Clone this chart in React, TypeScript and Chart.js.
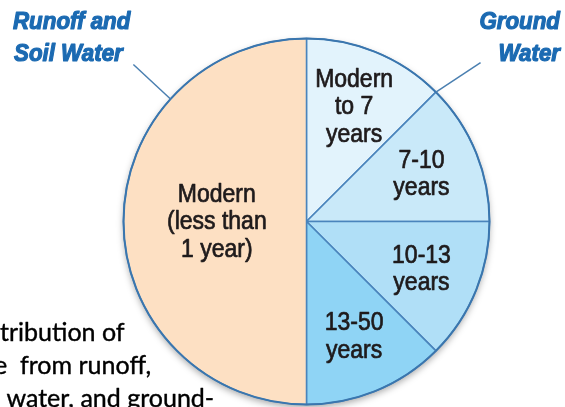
import React, { useEffect, useRef } from "react";
import { Chart, registerables } from "chart.js";

Chart.register(...registerables);

// Slices, clockwise from the top of the circle
const categories = ["Modern to 7 years", "7-10 years", "10-13 years", "13-50 years", "Modern (less than 1 year)"];
const shares = [12.5, 12.5, 12.5, 12.5, 50];
const sliceLabels = [
  ["Modern", "to 7", "years"],
  ["7-10", "years"],
  ["10-13", "years"],
  ["13-50", "years"],
  ["Modern", "(less than", "1 year)"],
];
const sliceColors = ["#E2F3FC", "#C9E9F9", "#B0DFF7", "#8FD4F5", "#FDE0C3"];
const groupLeft = ["Runoff and", "Soil Water"];
const groupRight = ["Ground", "Water"];
const captionLines = ["tribution of", "e  from runoff,", " water, and ground-"];

function drawScaled(ctx: CanvasRenderingContext2D, text: string, x: number, y: number, align: CanvasTextAlign, sx: number, strokeW = 0) {
  ctx.save();
  ctx.translate(x, y);
  ctx.scale(sx, 1);
  ctx.textAlign = align;
  ctx.textBaseline = "alphabetic";
  if (strokeW > 0) {
    ctx.lineWidth = strokeW;
    ctx.lineJoin = "round";
    ctx.strokeStyle = ctx.fillStyle as string;
    ctx.strokeText(text, 0, 0);
  }
  ctx.fillText(text, 0, 0);
  ctx.restore();
}

const overlay = {
  id: "overlay",
  beforeDatasetsDraw(chart: any) {
    const ctx = chart.ctx as CanvasRenderingContext2D;
    const a = chart.getDatasetMeta(0).data[0];
    if (!a) return;
    ctx.save();
    ctx.shadowColor = "rgba(0,0,0,0.35)";
    ctx.shadowBlur = 7;
    ctx.shadowOffsetY = 3;
    ctx.beginPath();
    ctx.arc(a.x, a.y, a.outerRadius, 0, Math.PI * 2);
    ctx.fillStyle = "#ffffff";
    ctx.fill();
    ctx.restore();
  },
  afterDatasetsDraw(chart: any) {
    const ctx = chart.ctx as CanvasRenderingContext2D;
    const arcs = chart.getDatasetMeta(0).data;
    if (!arcs.length) return;
    const cx = arcs[0].x;
    const cy = arcs[0].y;
    const R = arcs[0].outerRadius;

    // outer ring
    ctx.save();
    ctx.beginPath();
    ctx.arc(cx, cy, R, 0, Math.PI * 2);
    ctx.strokeStyle = "#3A76AE";
    ctx.lineWidth = 2;
    ctx.stroke();
    ctx.restore();

    // callout lines
    const deg = Math.PI / 180;
    const callouts = [
      { a0: -138, r0: 1.0, a1: -137.8, r1: 1.277 },
      { a0: -45, r0: 1.0, a1: -42.4, r1: 1.288 },
    ];
    ctx.save();
    ctx.strokeStyle = "#4A7FB0";
    ctx.lineWidth = 1.5;
    for (const c of callouts) {
      ctx.beginPath();
      ctx.moveTo(cx + Math.cos(c.a0 * deg) * R * c.r0, cy + Math.sin(c.a0 * deg) * R * c.r0);
      ctx.lineTo(cx + Math.cos(c.a1 * deg) * R * c.r1, cy + Math.sin(c.a1 * deg) * R * c.r1);
      ctx.stroke();
    }
    ctx.restore();

    // slice labels
    ctx.save();
    ctx.fillStyle = "#1E1A1B";
    ctx.font = "25px 'Liberation Sans', Arial, sans-serif";
    const lh = 27.5;
    const capH = 18;
    arcs.forEach((arc: any, i: number) => {
      const mid = (arc.startAngle + arc.endAngle) / 2;
      const span = arc.endAngle - arc.startAngle;
      const f = span > Math.PI * 0.9 ? 0.49 : 0.68;
      const lx = cx + Math.cos(mid) * R * f;
      const ly = cy + Math.sin(mid) * R * f - 1.5;
      const lines = sliceLabels[i];
      const first = ly - ((lines.length - 1) * lh) / 2 + capH / 2;
      lines.forEach((t, k) => drawScaled(ctx, t, lx, first + k * lh, "center", 0.92, 0.7));
    });
    ctx.restore();

    // group titles
    ctx.save();
    ctx.fillStyle = "#1B6AB2";
    ctx.font = "italic bold 24px 'Liberation Sans', Arial, sans-serif";
    drawScaled(ctx, groupLeft[0], 13, 29, "left", 0.93, 1.2);
    drawScaled(ctx, groupLeft[1], 14, 61, "left", 0.93, 1.2);
    drawScaled(ctx, groupRight[0], 560, 29, "right", 0.93, 1.2);
    drawScaled(ctx, groupRight[1], 560, 61, "right", 0.93, 1.2);
    ctx.restore();

    // caption fragment
    ctx.save();
    ctx.fillStyle = "#000000";
    ctx.font = "25px Lato, 'Open Sans', sans-serif";
    drawScaled(ctx, captionLines[0], 0, 341, "left", 1, 0.4);
    drawScaled(ctx, captionLines[1], -6, 374, "left", 1, 0.4);
    drawScaled(ctx, captionLines[2], 0, 407, "left", 1, 0.4);
    ctx.restore();
  },
};

export default function App() {
  const ref = useRef<HTMLCanvasElement | null>(null);
  useEffect(() => {
    document.body.style.margin = "0";
    const canvas = ref.current;
    if (!canvas) return;
    const chart = new Chart(canvas, {
      type: "pie",
      data: {
        labels: categories,
        datasets: [
          {
            data: shares,
            backgroundColor: sliceColors,
            borderColor: "#4A84BC",
            borderWidth: 1.5,
            hoverOffset: 0,
          },
        ],
      },
      options: {
        responsive: false,
        animation: false,
        radius: 183,
        layout: { padding: { top: 38, bottom: 2, left: 124, right: 76 } },
        plugins: { legend: { display: false }, tooltip: { enabled: false } },
      },
      plugins: [overlay],
    } as any);
    return () => chart.destroy();
  }, []);
  return (
    <div style={{ width: 565, height: 407, background: "#ffffff" }}>
      <canvas ref={ref} width={565} height={407} style={{ display: "block" }} />
    </div>
  );
}
